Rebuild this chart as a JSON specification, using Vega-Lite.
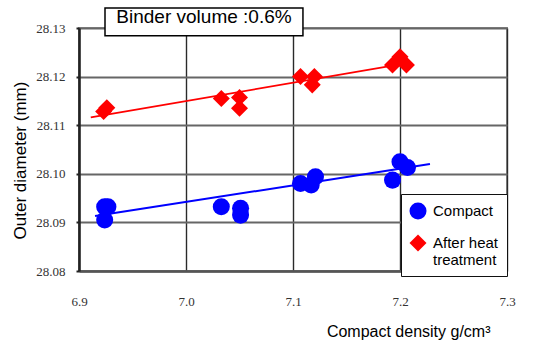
{
  "$schema": "https://vega.github.io/schema/vega-lite/v6.json",
  "width": 428,
  "height": 243,
  "autosize": {"type": "none"},
  "padding": {"left": 79, "top": 28, "right": 39, "bottom": 70},
  "background": "white",
  "config": {
    "view": {"stroke": "#8a8a8a", "strokeWidth": 2},
    "font": "Liberation Sans"
  },
  "datasets": {
    "points": [
      {"density": 6.924, "diameter": 28.0932, "series": "Compact"},
      {"density": 6.927, "diameter": 28.0932, "series": "Compact"},
      {"density": 6.924, "diameter": 28.0905, "series": "Compact"},
      {"density": 7.033, "diameter": 28.0932, "series": "Compact"},
      {"density": 7.051, "diameter": 28.0929, "series": "Compact"},
      {"density": 7.051, "diameter": 28.0915, "series": "Compact"},
      {"density": 7.107, "diameter": 28.0980, "series": "Compact"},
      {"density": 7.117, "diameter": 28.0977, "series": "Compact"},
      {"density": 7.121, "diameter": 28.0994, "series": "Compact"},
      {"density": 7.193, "diameter": 28.0987, "series": "Compact"},
      {"density": 7.200, "diameter": 28.1025, "series": "Compact"},
      {"density": 7.207, "diameter": 28.1013, "series": "Compact"},
      {"density": 6.923, "diameter": 28.1128, "series": "After heat treatment"},
      {"density": 6.926, "diameter": 28.1136, "series": "After heat treatment"},
      {"density": 7.033, "diameter": 28.1155, "series": "After heat treatment"},
      {"density": 7.050, "diameter": 28.1157, "series": "After heat treatment"},
      {"density": 7.050, "diameter": 28.1135, "series": "After heat treatment"},
      {"density": 7.107, "diameter": 28.1200, "series": "After heat treatment"},
      {"density": 7.120, "diameter": 28.1200, "series": "After heat treatment"},
      {"density": 7.118, "diameter": 28.1183, "series": "After heat treatment"},
      {"density": 7.193, "diameter": 28.1224, "series": "After heat treatment"},
      {"density": 7.200, "diameter": 28.1241, "series": "After heat treatment"},
      {"density": 7.206, "diameter": 28.1224, "series": "After heat treatment"}
    ],
    "trend": [
      {"density": 6.915, "diameter": 28.0913, "series": "Compact"},
      {"density": 7.228, "diameter": 28.1020, "series": "Compact"},
      {"density": 6.911, "diameter": 28.1116, "series": "After heat treatment"},
      {"density": 7.200, "diameter": 28.1225, "series": "After heat treatment"}
    ],
    "note": [{"label": "Binder volume :0.6%"}]
  },
  "layer": [
    {
      "data": {"name": "trend"},
      "transform": [{"filter": "datum.series === 'Compact'"}],
      "mark": {"type": "line", "color": "#0000ff", "strokeWidth": 2},
      "encoding": {
        "x": {"field": "density", "type": "quantitative", "scale": {"domain": [6.9, 7.3], "nice": false, "zero": false}},
        "y": {"field": "diameter", "type": "quantitative", "scale": {"domain": [28.08, 28.13], "nice": false, "zero": false}}
      }
    },
    {
      "data": {"name": "trend"},
      "transform": [{"filter": "datum.series !== 'Compact'"}],
      "mark": {"type": "line", "color": "#ff0000", "strokeWidth": 1.8},
      "encoding": {
        "x": {"field": "density", "type": "quantitative", "scale": {"domain": [6.9, 7.3], "nice": false, "zero": false}},
        "y": {"field": "diameter", "type": "quantitative", "scale": {"domain": [28.08, 28.13], "nice": false, "zero": false}}
      }
    },
    {
      "data": {"name": "points"},
      "mark": {"type": "point", "filled": true, "opacity": 1, "strokeWidth": 0},
      "encoding": {
        "x": {
          "field": "density", "type": "quantitative",
          "scale": {"domain": [6.9, 7.3], "nice": false, "zero": false},
          "axis": {
            "values": [6.9, 7.0, 7.1, 7.2, 7.3], "format": ".1f", "labelFlush": false,
            "grid": true, "gridColor": "#2a2a2a", "gridWidth": 1.4,
            "domainColor": "#555555", "domainWidth": 2.5, "ticks": false,
            "labelPadding": 24, "labelFontSize": 13, "labelColor": "#333333",
            "labelFont": "Liberation Sans Narrow",
            "title": "Compact density g/cm³", "titleFontSize": 16, "titleFontWeight": "normal",
            "titleColor": "#000000", "titleAlign": "right", "titleAnchor": "start",
            "titleX": 411, "titleY": 65, "titleBaseline": "alphabetic"
          }
        },
        "y": {
          "field": "diameter", "type": "quantitative",
          "scale": {"domain": [28.08, 28.13], "nice": false, "zero": false},
          "axis": {
            "values": [28.08, 28.09, 28.1, 28.11, 28.12, 28.13], "format": ".2f", "labelFlush": false,
            "grid": true, "gridColor": "#666666", "gridWidth": 2,
            "domainColor": "#222222", "domainWidth": 2.5, "ticks": true, "tickSize": 3,
            "tickColor": "#222222", "tickWidth": 2,
            "labelPadding": 11, "labelFontSize": 13, "labelColor": "#333333",
            "labelFont": "Liberation Sans Narrow",
            "title": "Outer diameter (mm)", "titleFontSize": 17, "titleFontWeight": "normal",
            "titleColor": "#000000", "titleAngle": -90, "titleX": -59, "titleY": 132,
            "titleAlign": "center", "titleBaseline": "middle"
          }
        },
        "color": {
          "field": "series", "type": "nominal",
          "scale": {"domain": ["Compact", "After heat treatment"], "range": ["#0000ff", "#ff0000"]},
          "legend": {
            "orient": "none", "legendX": 322, "legendY": 166, "title": null,
            "fillColor": "white", "strokeColor": "#111111", "padding": 8,
            "labelFontSize": 15, "labelColor": "#000000", "labelOffset": 6, "rowPadding": 14,
            "symbolSize": 225, "symbolStrokeWidth": 0,
            "labelExpr": "datum.label === 'After heat treatment' ? ['After heat\u00a0\u00a0\u00a0\u00a0\u00a0', 'treatment'] : datum.label"
          }
        },
        "shape": {
          "field": "series", "type": "nominal",
          "scale": {"domain": ["Compact", "After heat treatment"], "range": ["circle", "diamond"]},
          "legend": {
            "orient": "none", "legendX": 322, "legendY": 166, "title": null,
            "fillColor": "white", "strokeColor": "#111111", "padding": 8,
            "labelFontSize": 15, "labelColor": "#000000", "labelOffset": 6, "rowPadding": 14,
            "symbolSize": 225, "symbolStrokeWidth": 0,
            "labelExpr": "datum.label === 'After heat treatment' ? ['After heat\u00a0\u00a0\u00a0\u00a0\u00a0', 'treatment'] : datum.label"
          }
        },
        "size": {
          "field": "series", "type": "nominal",
          "scale": {"domain": ["Compact", "After heat treatment"], "range": [290, 290]},
          "legend": null
        }
      }
    },
    {
      "data": {"name": "note"},
      "mark": {"type": "rect", "fill": "white", "stroke": "#000000", "strokeWidth": 1.5},
      "encoding": {
        "x": {"datum": 6.9243, "type": "quantitative", "scale": {"domain": [6.9, 7.3], "nice": false, "zero": false}},
        "x2": {"datum": 7.1093},
        "y": {"datum": 28.1341, "type": "quantitative", "scale": {"domain": [28.08, 28.13], "nice": false, "zero": false}},
        "y2": {"datum": 28.1284}
      }
    },
    {
      "data": {"name": "note"},
      "mark": {"type": "text", "fontSize": 19, "color": "#000000", "align": "center", "baseline": "middle"},
      "encoding": {
        "x": {"datum": 7.0168, "type": "quantitative", "scale": {"domain": [6.9, 7.3], "nice": false, "zero": false}},
        "y": {"datum": 28.1323, "type": "quantitative", "scale": {"domain": [28.08, 28.13], "nice": false, "zero": false}},
        "text": {"field": "label"}
      }
    }
  ]
}
